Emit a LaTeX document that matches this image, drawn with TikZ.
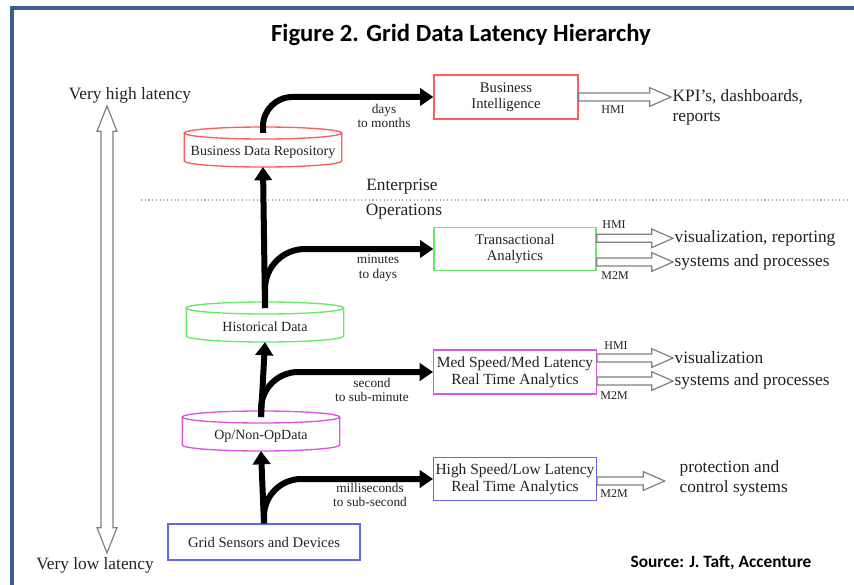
\documentclass[tikz,border=0pt]{standalone}
\usepackage{fontspec}
\setmainfont{Liberation Serif}
\newfontfamily\headfont{Carlito}
\usetikzlibrary{arrows.meta, calc, positioning}
\definecolor{framebl}{HTML}{3B5E8C}
\definecolor{bizred}{HTML}{FF5C5C}
\definecolor{opsgreen}{HTML}{66EA66}
\definecolor{medpink}{HTML}{DD55DD}
\definecolor{lowblue}{HTML}{6262F5}
\definecolor{hollowgr}{HTML}{808080}
\definecolor{inkgr}{HTML}{222222}
\tikzset{
    box/.style={draw=#1, line width=1pt, fill=white, align=center, inner sep=0pt,
        text=inkgr, font=\fontsize{11}{12}\selectfont},
    dbase/.style={align=center, inner sep=1pt, text=inkgr, font=\fontsize{10.5}{12}\selectfont},
    lat/.style={align=center, inner sep=1pt, text=inkgr, font=\fontsize{10}{11}\selectfont},
    iface/.style={inner sep=0pt, text=inkgr, font=\fontsize{9}{10}\selectfont},
    sink/.style={anchor=west, align=left, inner sep=1pt, text=inkgr, font=\fontsize{13}{15}\selectfont},
    flow/.style={line width=4.5pt, -{Triangle[length=10pt,width=13pt]}},
    hollow/.style={draw=hollowgr, line width=0.9pt, fill=white,
        to path={let \p1=(\tikztostart), \p2=(\tikztotarget) in
            (\x1,\y1+3pt) -- (\x2-16pt,\y1+3pt) -- (\x2-16pt,\y1+7pt) -- (\x2,\y1)
            -- (\x2-16pt,\y1-7pt) -- (\x2-16pt,\y1-3pt) -- (\x1,\y1-3pt) -- cycle}},
    updown/.style={draw=hollowgr, line width=0.9pt, fill=white,
        to path={let \p1=(\tikztostart), \p2=(\tikztotarget) in
            (\x1,\y1) -- (\x1+7.5pt,\y1-19pt) -- (\x1+4.5pt,\y1-19pt) -- (\x1+4.5pt,\y2+19pt)
            -- (\x1+7.5pt,\y2+19pt) -- (\x2,\y2) -- (\x1-7.5pt,\y2+19pt) -- (\x1-4.5pt,\y2+19pt)
            -- (\x1-4.5pt,\y1-19pt) -- (\x1-7.5pt,\y1-19pt) -- cycle}}
}
% cylinder round a text node
\newcommand\drum[2]{%
    \draw[#2, line width=1pt] ([yshift=14.25pt]#1.center) ellipse [x radius=59pt, y radius=4.5pt];
    \draw[#2, line width=1pt] ([shift={(-59pt,14.25pt)}]#1.center) -- ([shift={(-59pt,-6.75pt)}]#1.center)
        arc[start angle=180, end angle=360, x radius=59pt, y radius=4.5pt]
        -- ([shift={(59pt,14.25pt)}]#1.center);
    \coordinate (#1-top) at ([yshift=14.25pt]#1.center);
    \coordinate (#1-bot) at ([yshift=-11.25pt]#1.center);
}

\begin{document}
\begin{tikzpicture}[x=0.75pt, y=-0.75pt]
    \useasboundingbox (0,0) rectangle (854,585);
    \draw[framebl, line width=2.4pt] (12,620) -- (12,8) -- (900,8);

    \node[font=\headfont\bfseries\fontsize{18.5}{20}\selectfont] (title) at (461,35) {Figure 2. Grid Data Latency Hierarchy};
    \node[font=\headfont\bfseries\fontsize{13}{15}\selectfont] (source) at (721,563) {Source: J. Taft, Accenture};

    % latency scale
    \node[text=inkgr, font=\fontsize{13}{15}\selectfont] (high) at (130,95) {Very high latency};
    \node[text=inkgr, font=\fontsize{13}{15}\selectfont] (low) at (95,565) {Very low latency};
    \coordinate (scaletop) at (107,106);
    \coordinate (scalebot) at (107,553);
    \draw[updown] (scaletop) to (scalebot);

    % enterprise / operations
    \draw[gray!70, line width=0.8pt, dotted] (141,200) -- (848,200);
    \node[text=inkgr, font=\fontsize{13}{15}\selectfont] (ent) at (402,187) {Enterprise};
    \node[text=inkgr, font=\fontsize{13}{15}\selectfont] (ops) at (404,212) {Operations};

    % stores
    \node[dbase] (bdr) at (263,152) {Business Data Repository};
    \drum{bdr}{bizred}
    \node[dbase] (hd) at (265,327) {Historical Data};
    \drum{hd}{opsgreen}
    \node[dbase] (op) at (261,436) {Op/Non-OpData};
    \drum{op}{medpink}
    \node[box=lowblue, minimum width=144pt, minimum height=27pt] (gs) at (264,542) {Grid Sensors and Devices};

    % analytics
    \node[box=bizred, minimum width=108pt, minimum height=33pt] (bi) at (506,97) {Business\\Intelligence};
    \node[box=opsgreen, minimum width=121.5pt, minimum height=32pt] (ta) at (515,249) {Transactional\\Analytics};
    \node[box=medpink, minimum width=122pt, minimum height=33pt, font=\fontsize{11.6}{12.75}\selectfont] (med) at (515,372) {Med Speed/Med Latency\\Real Time Analytics};
    \node[box=lowblue, minimum width=122pt, minimum height=32pt, font=\fontsize{11.6}{12.75}\selectfont] (hs) at (515,479) {High Speed/Low Latency\\Real Time Analytics};

    % data paths
    \draw[flow] (hd-top) -- (bdr-bot);
    \draw[flow] (op-top) -- (hd-bot);
    \draw[flow] (gs.north) -- (op-bot);
    \draw[flow, rounded corners=22pt] (bdr-top) |- (bi.west);
    \draw[flow, rounded corners=30pt] (hd-top) |- (ta.west);
    \draw[flow, rounded corners=28pt] (op-top) |- (med.west);
    \draw[flow, rounded corners=28pt] (gs.north) |- (hs.west);
    \node[lat] (l1) at (384,116) {days\\to months};
    \node[lat] (l2) at (378,268) {minutes\\to days};
    \node[lat] (l3) at (372,390) {second\\to sub-minute};
    \node[lat] (l4) at (370,495) {milliseconds\\to sub-second};

    % consumers
    \node[sink] (kpi) at (671,107) {KPI's, dashboards,\\reports};
    \node[sink] (vis1) at (673,238) {visualization, reporting};
    \node[sink] (sys1) at (673,262) {systems and processes};
    \node[sink] (vis2) at (673,358) {visualization};
    \node[sink] (sys2) at (673,381) {systems and processes};
    \node[sink] (prot) at (678,478) {protection and\\control systems};

    \draw[hollow] (bi.east) to (kpi.west);
    \draw[hollow] ([yshift=8pt]ta.east) to (vis1.west);
    \draw[hollow] ([yshift=-9.75pt]ta.east) to (sys1.west);
    \draw[hollow] ([yshift=10.5pt]med.east) to (vis2.west);
    \draw[hollow] ([yshift=-6.75pt]med.east) to (sys2.west);
    \draw[hollow] ([yshift=-1.5pt]hs.east) to ([xshift=-10pt]prot.west);
    \node[iface] (h1) at (613,110) {HMI};
    \node[iface] (h2) at (614,225) {HMI};
    \node[iface] (m2) at (615,276) {M2M};
    \node[iface] (h3) at (616,346) {HMI};
    \node[iface] (m3) at (614,396) {M2M};
    \node[iface] (m4) at (614,494) {M2M};
\end{tikzpicture}
\end{document}
